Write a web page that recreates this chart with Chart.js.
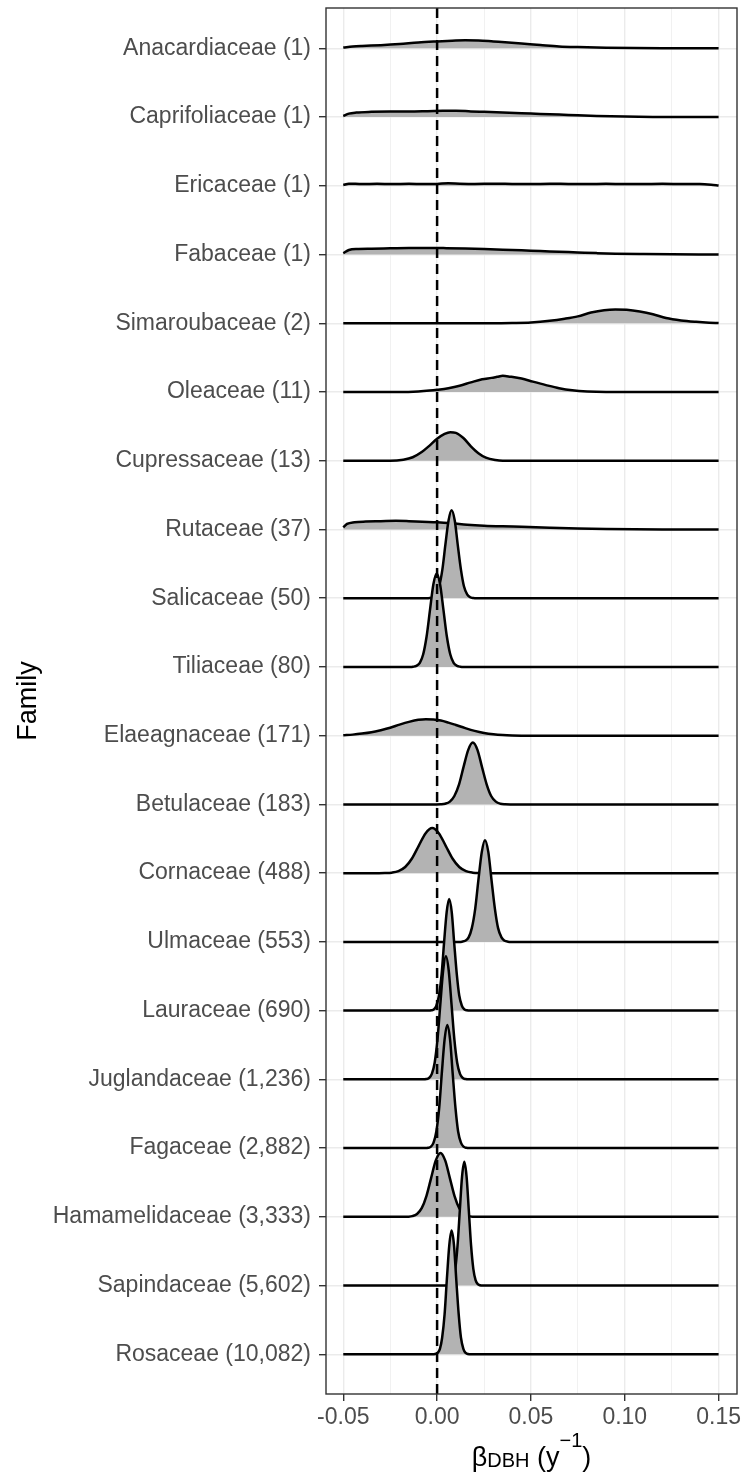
<!DOCTYPE html>
<html>
<head>
<meta charset="utf-8">
<script src="https://cdn.jsdelivr.net/npm/chart.js@4.4.1/dist/chart.umd.min.js"></script>
<style>
  body { margin: 0; background: #fff; }
  #wrap { position: relative; width: 744px; height: 1477px; }
  #xtitle {
    position: absolute; left: 326px; width: 411px; top: 1442px;
    text-align: center; color: #000; line-height: 30px;
    font: 27px "Liberation Sans", Arial, sans-serif;
  }
  #xtitle sub, #xtitle sup { font-size: 20px; vertical-align: baseline; position: relative; }
  #xtitle sub { top: 1px; }
  #xtitle sup { top: -19px; }
</style>
</head>
<body>
<div id="wrap">
  <canvas id="chart" width="744" height="1477"></canvas>
  <div id="xtitle">β<sub>DBH</sub> (y<sup>−1</sup>)</div>
</div>
<script>
const FAMILIES = [
  "Anacardiaceae (1)", "Caprifoliaceae (1)", "Ericaceae (1)", "Fabaceae (1)",
  "Simaroubaceae (2)", "Oleaceae (11)", "Cupressaceae (13)", "Rutaceae (37)",
  "Salicaceae (50)", "Tiliaceae (80)", "Elaeagnaceae (171)", "Betulaceae (183)",
  "Cornaceae (488)", "Ulmaceae (553)", "Lauraceae (690)", "Juglandaceae (1,236)",
  "Fagaceae (2,882)", "Hamamelidaceae (3,333)", "Sapindaceae (5,602)", "Rosaceae (10,082)",
];

const X_TICKS = [-0.05, 0, 0.05, 0.1, 0.15];
const X_TICK_LABELS = ["-0.05", "0.00", "0.05", "0.10", "0.15"];
const X_MINOR = [-0.025, 0.025, 0.075, 0.125];
const REF_X = 0;

// [beta, ridge height above the family baseline]
const anacardiaceae = [[-0.05,0.012],[-0.045,0.025],[-0.04,0.033],[-0.03,0.045],[-0.02,0.062],[-0.01,0.085],[0,0.1],[0.008,0.11],[0.015,0.117],[0.022,0.115],[0.03,0.1],[0.038,0.085],[0.045,0.07],[0.055,0.048],[0.065,0.027],[0.075,0.017],[0.09,0.008],[0.105,0.003],[0.12,0.001],[0.15,0]];
const caprifoliaceae = [[-0.05,0.015],[-0.047,0.05],[-0.043,0.065],[-0.035,0.075],[-0.025,0.08],[-0.015,0.08],[-0.005,0.085],[0.003,0.09],[0.01,0.092],[0.018,0.082],[0.025,0.075],[0.035,0.065],[0.045,0.055],[0.055,0.045],[0.065,0.035],[0.075,0.025],[0.085,0.015],[0.1,0.006],[0.115,0.002],[0.15,0]];
const ericaceae = [[-0.05,0.01],[-0.047,0.03],[-0.04,0.025],[-0.032,0.028],[-0.024,0.024],[-0.015,0.028],[-0.007,0.025],[0,0.027],[0.006,0.036],[0.012,0.03],[0.02,0.026],[0.03,0.03],[0.04,0.027],[0.05,0.025],[0.06,0.029],[0.07,0.026],[0.08,0.025],[0.09,0.028],[0.1,0.024],[0.11,0.025],[0.12,0.028],[0.13,0.026],[0.14,0.024],[0.146,0.015],[0.15,0.005]];
const fabaceae = [[-0.05,0.02],[-0.047,0.065],[-0.042,0.08],[-0.035,0.085],[-0.025,0.09],[-0.015,0.095],[-0.005,0.095],[0.005,0.092],[0.015,0.087],[0.025,0.08],[0.035,0.07],[0.045,0.06],[0.055,0.05],[0.065,0.04],[0.075,0.03],[0.085,0.02],[0.095,0.012],[0.11,0.006],[0.125,0.002],[0.15,0]];
const simaroubaceae = [[-0.05,0],[0.03,0],[0.04,0.004],[0.05,0.012],[0.06,0.035],[0.068,0.065],[0.075,0.1],[0.082,0.155],[0.089,0.19],[0.095,0.2],[0.101,0.195],[0.108,0.17],[0.115,0.13],[0.122,0.075],[0.13,0.04],[0.138,0.02],[0.145,0.008],[0.15,0.003]];
const oleaceae = [[-0.05,0],[-0.02,0],[-0.01,0.008],[-0.004,0.02],[0,0.032],[0.006,0.055],[0.012,0.09],[0.018,0.14],[0.024,0.185],[0.029,0.205],[0.032,0.22],[0.035,0.235],[0.039,0.222],[0.045,0.195],[0.051,0.15],[0.058,0.1],[0.065,0.055],[0.072,0.025],[0.08,0.008],[0.09,0.001],[0.15,0]];
const cupressaceae = [[-0.05,0],[-0.025,0],[-0.018,0.015],[-0.013,0.05],[-0.008,0.13],[-0.004,0.22],[0,0.32],[0.004,0.39],[0.007,0.415],[0.01,0.405],[0.014,0.33],[0.018,0.21],[0.022,0.11],[0.026,0.045],[0.031,0.01],[0.035,0],[0.15,0]];
const rutaceae = [[-0.05,0.03],[-0.048,0.08],[-0.044,0.105],[-0.038,0.115],[-0.03,0.12],[-0.022,0.125],[-0.015,0.12],[-0.008,0.112],[0,0.105],[0.008,0.09],[0.016,0.07],[0.025,0.055],[0.035,0.045],[0.045,0.038],[0.06,0.025],[0.075,0.014],[0.09,0.007],[0.105,0.003],[0.12,0.001],[0.15,0]];
const salicaceae = [[-0.05,0],[-0.0055,0],[-0.0039,0.003],[-0.0022,0.014],[-0.0006,0.056],[0.0011,0.173],[0.0028,0.416],[0.0044,0.776],[0.0061,1.13],[0.0077,1.28],[0.0094,1.13],[0.011,0.776],[0.0127,0.416],[0.0143,0.173],[0.016,0.056],[0.0176,0.014],[0.0193,0.003],[0.021,0],[0.15,0]];
const tiliaceae = [[-0.05,0],[-0.0145,0],[-0.0128,0.003],[-0.011,0.015],[-0.0092,0.06],[-0.0074,0.184],[-0.0056,0.442],[-0.0038,0.825],[-0.002,1.2],[-0.0002,1.36],[0.0016,1.2],[0.0034,0.825],[0.0052,0.442],[0.007,0.184],[0.0088,0.06],[0.0106,0.015],[0.0124,0.003],[0.014,0],[0.15,0]];
const elaeagnaceae = [[-0.05,0.005],[-0.045,0.015],[-0.04,0.03],[-0.035,0.05],[-0.03,0.08],[-0.025,0.115],[-0.02,0.16],[-0.015,0.2],[-0.01,0.23],[-0.006,0.24],[-0.002,0.235],[0.002,0.22],[0.006,0.19],[0.01,0.155],[0.015,0.11],[0.02,0.07],[0.025,0.04],[0.03,0.02],[0.035,0.008],[0.04,0.002],[0.045,0],[0.15,0]];
const betulaceae = [[-0.05,0],[-0.0005,0],[0.0019,0.002],[0.0043,0.01],[0.0068,0.04],[0.0092,0.122],[0.0117,0.292],[0.0141,0.546],[0.0166,0.794],[0.019,0.9],[0.0215,0.794],[0.0239,0.546],[0.0264,0.292],[0.0288,0.122],[0.0313,0.04],[0.0337,0.01],[0.0362,0.002],[0.039,0],[0.15,0]];
const cornaceae = [[-0.05,0],[-0.031,0],[-0.0278,0.001],[-0.0242,0.007],[-0.0206,0.029],[-0.017,0.089],[-0.0134,0.213],[-0.0098,0.397],[-0.0062,0.578],[-0.0026,0.655],[0.001,0.578],[0.0046,0.397],[0.0082,0.213],[0.0118,0.089],[0.0154,0.029],[0.019,0.007],[0.0226,0.001],[0.026,0],[0.15,0]];
const ulmaceae = [[-0.05,0],[0.0115,0],[0.0133,0.003],[0.015,0.016],[0.0168,0.065],[0.0185,0.2],[0.0203,0.481],[0.022,0.898],[0.0238,1.306],[0.0255,1.48],[0.0273,1.306],[0.029,0.898],[0.0308,0.481],[0.0325,0.2],[0.0343,0.065],[0.036,0.016],[0.0378,0.003],[0.0395,0],[0.15,0]];
const lauraceae = [[-0.05,0],[-0.0045,0],[-0.0031,0.004],[-0.0017,0.018],[-0.0004,0.071],[0.001,0.22],[0.0024,0.528],[0.0037,0.986],[0.0051,1.434],[0.0064,1.625],[0.0078,1.434],[0.0091,0.986],[0.0105,0.528],[0.0118,0.22],[0.0132,0.071],[0.0145,0.018],[0.0159,0.004],[0.0173,0],[0.15,0]];
const juglandaceae = [[-0.05,0],[-0.0073,0],[-0.0058,0.004],[-0.0043,0.02],[-0.0028,0.079],[-0.0013,0.242],[0.0002,0.581],[0.0017,1.086],[0.0032,1.58],[0.0047,1.79],[0.0062,1.58],[0.0077,1.086],[0.0092,0.581],[0.0107,0.242],[0.0122,0.079],[0.0137,0.02],[0.0152,0.004],[0.0167,0],[0.15,0]];
const fagaceae = [[-0.05,0],[-0.0062,0],[-0.0048,0.004],[-0.0033,0.02],[-0.0019,0.079],[-0.0004,0.242],[0.0011,0.581],[0.0025,1.086],[0.004,1.58],[0.0054,1.79],[0.0069,1.58],[0.0083,1.086],[0.0098,0.581],[0.0112,0.242],[0.0127,0.079],[0.0141,0.02],[0.0156,0.004],[0.017,0],[0.15,0]];
const hamamelidaceae = [[-0.05,0],[-0.0182,0],[-0.0157,0.002],[-0.0132,0.01],[-0.0107,0.041],[-0.0082,0.126],[-0.0057,0.302],[-0.0032,0.564],[-0.0007,0.821],[0.0018,0.93],[0.0043,0.821],[0.0068,0.564],[0.0093,0.302],[0.0118,0.126],[0.0143,0.041],[0.0168,0.01],[0.0193,0.002],[0.0218,0],[0.15,0]];
const sapindaceae = [[-0.05,0],[0.0049,0],[0.0061,0.004],[0.0073,0.02],[0.0085,0.079],[0.0097,0.244],[0.0109,0.584],[0.0121,1.092],[0.0133,1.589],[0.0145,1.8],[0.0157,1.589],[0.0169,1.092],[0.0181,0.584],[0.0193,0.244],[0.0205,0.079],[0.0217,0.02],[0.0229,0.004],[0.0241,0],[0.15,0]];
const rosaceae = [[-0.05,0],[-0.0024,0],[-0.0011,0.004],[0.0002,0.02],[0.0015,0.079],[0.0027,0.244],[0.004,0.584],[0.0052,1.092],[0.0065,1.589],[0.0077,1.8],[0.009,1.589],[0.0102,1.092],[0.0115,0.584],[0.0127,0.244],[0.014,0.079],[0.0152,0.02],[0.0165,0.004],[0.0178,0],[0.15,0]];

const DENSITIES = [
  anacardiaceae, caprifoliaceae, ericaceae, fabaceae, simaroubaceae, oleaceae,
  cupressaceae, rutaceae, salicaceae, tiliaceae, elaeagnaceae, betulaceae,
  cornaceae, ulmaceae, lauraceae, juglandaceae, fagaceae, hamamelidaceae,
  sapindaceae, rosaceae,
];

const FONT = "'Liberation Sans', Arial, sans-serif";
const N = FAMILIES.length;

// top family sits on row N, bottom one on row 1
const datasets = FAMILIES.map((name, i) => {
  const base = N - i;
  return {
    label: name,
    data: DENSITIES[i].map(([x, h]) => ({ x, y: base + h })),
    order: base, // lower ridges drawn over the ones above them
    borderColor: "#000",
    borderWidth: 2.5,
    borderJoinStyle: "round",
    backgroundColor: "#B3B3B3",
    fill: { value: base },
    pointRadius: 0,
    cubicInterpolationMode: "monotone",
  };
});

const isMajor = (v) => X_TICKS.indexOf(v) >= 0;

const panel = {
  id: "panel",
  afterDatasetsDraw(chart) {
    const { ctx, chartArea: a, scales } = chart;
    const px = scales.x.getPixelForValue(REF_X);
    ctx.save();
    ctx.strokeStyle = "#000";
    ctx.lineWidth = 2.5;
    ctx.setLineDash([10, 6]);
    ctx.beginPath();
    ctx.moveTo(px, a.top);
    ctx.lineTo(px, a.bottom);
    ctx.stroke();
    ctx.setLineDash([]);
    ctx.strokeStyle = "#333";
    ctx.lineWidth = 1.4;
    ctx.strokeRect(a.left, a.top, a.right - a.left, a.bottom - a.top);
    ctx.restore();
  },
};

new Chart(document.getElementById("chart"), {
  type: "line",
  data: { datasets },
  plugins: [panel],
  options: {
    responsive: false,
    devicePixelRatio: 1,
    animation: false,
    layout: { padding: { top: 8, right: 7, bottom: 0, left: 0 } },
    plugins: { legend: { display: false }, tooltip: { enabled: false } },
    scales: {
      x: {
        type: "linear",
        min: -0.0592,
        max: 0.1598,
        afterBuildTicks: (axis) => {
          axis.ticks = [...X_TICKS, ...X_MINOR].sort((a, b) => a - b).map((v) => ({ value: v }));
        },
        afterFit: (axis) => {
          axis.height = 83;
          axis.paddingLeft = 0;
          axis.paddingRight = 0;
        },
        border: { display: false },
        grid: {
          color: "#EBEBEB",
          lineWidth: (c) => (isMajor(c.tick.value) ? 1.4 : 0.7),
          tickColor: (c) => (isMajor(c.tick.value) ? "#333" : "rgba(0,0,0,0)"),
          tickLength: 7,
        },
        ticks: {
          autoSkip: false,
          maxRotation: 0,
          padding: 3,
          color: "#4D4D4D",
          font: { family: FONT, size: 23 },
          callback: (v) => {
            const k = X_TICKS.indexOf(v);
            return k < 0 ? "" : X_TICK_LABELS[k];
          },
        },
      },
      y: {
        type: "linear",
        min: 0.4225,
        max: 20.586,
        afterBuildTicks: (axis) => {
          axis.ticks = FAMILIES.map((f, i) => ({ value: i + 1 }));
        },
        afterFit: (axis) => {
          axis.width = 326;
          axis.paddingTop = 0;
          axis.paddingBottom = 0;
        },
        border: { display: false },
        grid: { color: "#EBEBEB", lineWidth: 1.4, tickColor: "#333", tickLength: 7 },
        ticks: {
          autoSkip: false,
          padding: 8,
          color: "#4D4D4D",
          font: { family: FONT, size: 23 },
          callback: (v) => FAMILIES[N - v],
        },
        title: {
          display: true,
          text: "Family",
          color: "#000",
          font: { family: FONT, size: 27 },
          padding: { top: 12, bottom: 0 },
        },
      },
    },
  },
});
</script>
</body>
</html>
